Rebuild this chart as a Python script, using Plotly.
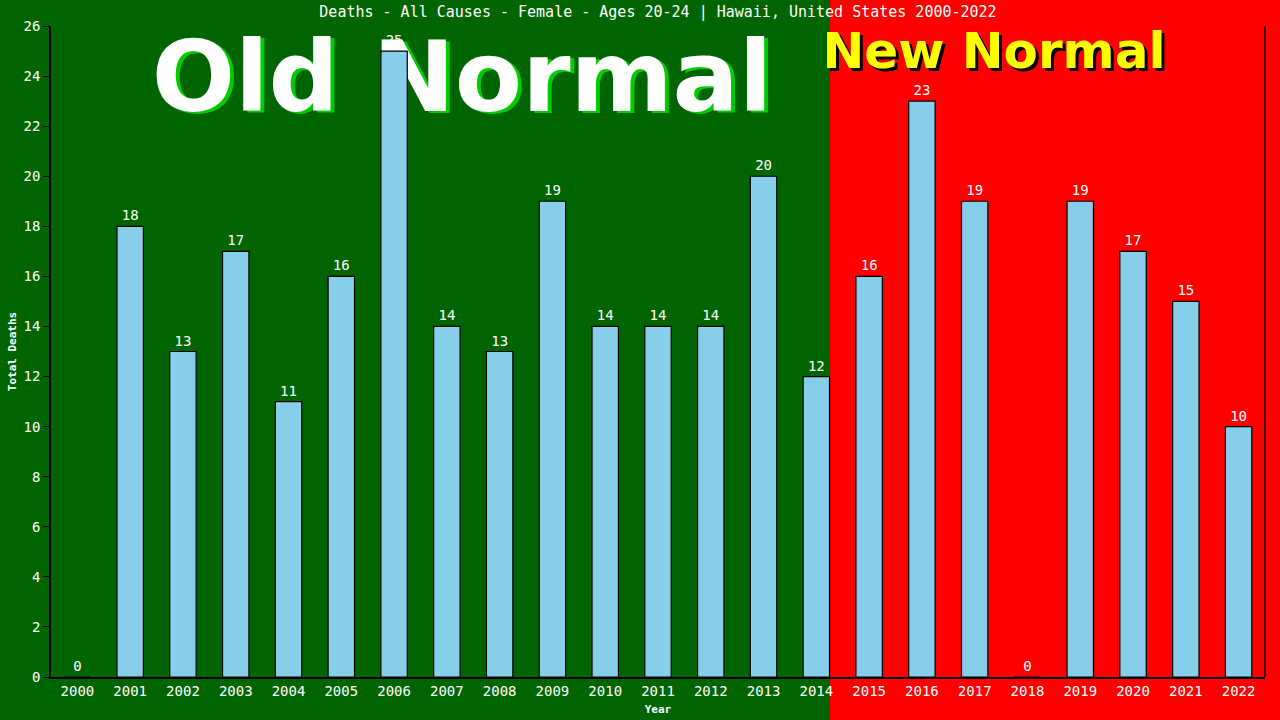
import plotly.graph_objects as go

years = [str(y) for y in range(2000, 2023)]
deaths = [0, 18, 13, 17, 11, 16, 25, 14, 13, 19, 14, 14, 14, 20, 12, 16, 23, 19, 0, 19, 17, 15, 10]
y_ticks = list(range(0, 27, 2))
title_text = "Deaths - All Causes - Female - Ages 20-24 | Hawaii, United States 2000-2022"

L, R, T, B = 51, 15, 26, 43
W, H = 1280, 720
pw = W - L - R
ph = H - T - B
def px(x):
    return (x - L) / pw
def py(y):
    return (H - B - y) / ph

mono = "DejaVu Sans Mono"
sans = "DejaVu Sans"
fig = go.Figure()

# Big background words (drawn on the base subplot, beneath the bars)
fig.add_trace(go.Scatter(
    x=[px(466), px(462), px(997), px(994)],
    y=[py(88), py(86), py(58), py(55)],
    mode="text",
    text=["Old Normal", "Old Normal", "New Normal", "New Normal"],
    textposition="middle center",
    textfont=dict(size=[98, 98, 50, 50], color=["#00CC00", "white", "black", "#FFFF00"],
                  family=sans, weight="bold"),
    xaxis="x", yaxis="y", hoverinfo="skip", cliponaxis=False,
))

fig.add_trace(go.Bar(
    x=years, y=deaths, width=0.5,
    marker=dict(color="#87CEEB", line=dict(color="black", width=1.2)),
    text=[str(v) for v in deaths], textposition="outside",
    textfont=dict(color="white", family=mono, size=14),
    cliponaxis=False, xaxis="x2", yaxis="y2",
))

shapes = [
    dict(type="rect", xref="paper", yref="paper", x0=-1, x1=px(830), y0=-1, y1=2,
         fillcolor="#006400", line=dict(width=0), layer="below"),
    dict(type="line", xref="paper", yref="paper", x0=1, x1=1, y0=0, y1=1,
         line=dict(color="black", width=1.5)),
]
fig.update_layout(shapes=shapes)

fig.update_layout(
    width=W, height=H,
    margin=dict(l=L, r=R, t=T, b=B),
    paper_bgcolor="#FF0000",
    plot_bgcolor="rgba(0,0,0,0)",
    showlegend=False,
    title=dict(text=title_text, x=0.5, xref="paper", xanchor="center", y=1 - 12 / H, yanchor="middle",
               font=dict(color="white", family=mono, size=15)),
    xaxis=dict(range=[0, 1], visible=False, automargin=False),
    yaxis=dict(range=[0, 1], visible=False, automargin=False),
    xaxis2=dict(
        type="category", range=[-0.5, 22.5], overlaying="x", automargin=False,
        showline=True, linecolor="black", linewidth=1.5,
        ticks="", showgrid=False,
        tickfont=dict(color="white", family=mono, size=14),
        title=dict(text="<b>Year</b>", font=dict(color="white", family=mono, size=11), standoff=8),
    ),
    yaxis2=dict(
        range=[0, 26], tickvals=y_ticks, overlaying="y", automargin=False,
        showline=True, linecolor="black", linewidth=1.5,
        ticks="outside", ticklen=6, tickcolor="black",
        showgrid=False, zeroline=False,
        tickfont=dict(color="white", family=mono, size=14),
        title=dict(text="<b>Total Deaths</b>", font=dict(color="white", family=mono, size=11), standoff=5),
    ),
)

fig.write_html("out.html", config={"displayModeBar": False},
               post_script="document.body.style.margin='0';document.body.style.overflow='hidden';")
